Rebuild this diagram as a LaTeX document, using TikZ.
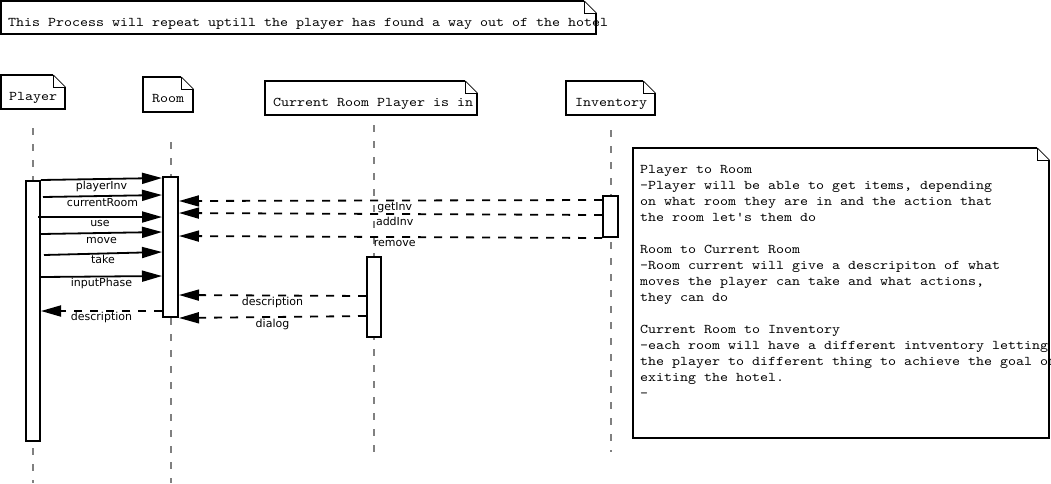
\documentclass[tikz,border=0pt]{standalone}
\usepackage{fontspec}
\usetikzlibrary{arrows.meta}
\newfontfamily\monof{lmmono10-regular.otf}[FakeStretch=1.143]
\newfontfamily\lblf{DejaVu Sans}
\definecolor{lifegray}{HTML}{808080}
\tikzset{
  notebox/.style={anchor=north west, inner ysep=0pt, minimum height=0pt, minimum width=0pt,
    fill=white, font=\monof\fontsize{13.33pt}{16pt}\selectfont, text height=25pt},
  notebord/.style={line width=2pt, line join=miter},
  foldl/.style={line width=0.8pt},
  act/.style={draw, line width=2pt, fill=white, inner sep=0pt},
  life/.style={draw=lifegray, line width=2pt, dash pattern=on 7pt off 9pt},
  msg/.style={line width=1.8pt, -{Triangle[length=20pt,width=11pt]}},
  ret/.style={msg, dash pattern=on 8pt off 8pt},
  lbl/.style={font=\lblf\fontsize{11pt}{13pt}\selectfont, inner sep=0pt},
}
\newcommand\foldnote[1]{%
  \draw[notebord] ([xshift=-12pt]#1.north east) -- (#1.north west) -- (#1.south west)
     -- (#1.south east) -- ([yshift=-12pt]#1.north east);
  \draw[foldl] ([xshift=-12pt]#1.north east) -- ([yshift=-12pt]#1.north east);
  \draw[foldl] ([xshift=-12pt]#1.north east) |- ([yshift=-12pt]#1.north east);}
\begin{document}
\begin{tikzpicture}[x=1pt,y=-1pt]
\useasboundingbox (0,0) rectangle (1051,483);

% notes / headers
\node[notebox, inner xsep=7pt, text depth=8pt] (top) at (1,1)
  {\makebox[581pt][l]{This Process will repeat uptill the player has found a way out of the hotel}};
\foldnote{top}
\node[notebox, inner xsep=8pt, text depth=9pt] (player) at (1,75) {\makebox[48pt][l]{Player}};
\foldnote{player}
\node[notebox, inner xsep=9pt, text depth=10pt] (room) at (143,77) {\makebox[32pt][l]{Room}};
\foldnote{room}
\node[notebox, inner xsep=8pt, text depth=9pt] (current) at (265,81) {\makebox[196pt][l]{Current Room Player is in}};
\foldnote{current}
\node[notebox, inner xsep=9pt, text depth=9pt] (inventory) at (566,81) {\makebox[71pt][l]{Inventory}};
\foldnote{inventory}

\node[notebox, inner xsep=7pt, text depth=265pt] (desc) at (633,148)
  {\makebox[402pt][l]{\begin{tabular}[t]{@{}l@{}}
  Player to Room\\
  -Player will be able to get items, depending\\
  on what room they are in and the action that\\
  the room let's them do\\
  \\
  Room to Current Room\\
  -Room current will give a descripiton of what\\
  moves the player can take and what actions,\\
  they can do\\
  \\
  Current Room to Inventory\\
  -each room will have a different intventory letting\\
  the player to different thing to achieve the goal of\\
  exiting the hotel.\\
  -
  \end{tabular}}};
\foldnote{desc}

% lifelines
\draw[life] (33,128) -- (33,483);
\draw[life] (171,142) -- (171,483);
\draw[life] (373.5,125) -- (373.5,455);
\draw[life] (610.5,130) -- (610.5,452);

% activations
\node[act, minimum width=14pt, minimum height=260pt] (pa) at (33,311) {};
\node[act, minimum width=15pt, minimum height=140pt] (ra) at (170.5,247) {};
\node[act, minimum width=14pt, minimum height=80pt] (ca) at (374,297) {};
\node[act, minimum width=15pt, minimum height=41pt] (ia) at (610.5,216.5) {};

% Player -> Room
\draw[msg] (pa.north east) -- node[lbl, midway, yshift=-7.5pt] (m1) {playerInv} ([yshift=-2pt]ra.north west);
\draw[msg] ([xshift=2pt,yshift=-17pt]pa.north east) -- node[lbl, midway, yshift=-6.5pt] (m2) {currentRoom} ([yshift=-19pt]ra.north west);
\draw[msg] ([xshift=-3pt,yshift=-37pt]pa.north east) -- node[lbl, midway, yshift=-6.5pt] (m3) {use} ([yshift=-41pt]ra.north west);
\draw[msg] ([yshift=-54pt]pa.north east) -- node[lbl, midway, yshift=-7.5pt] (m4) {move} ([yshift=-56pt]ra.north west);
\draw[msg] ([xshift=3pt,yshift=-75pt]pa.north east) -- node[lbl, midway, yshift=-6pt] (m5) {take} ([yshift=-76pt]ra.north west);
\draw[msg] ([yshift=-97pt]pa.north east) -- node[lbl, midway, yshift=-7pt] (m6) {inputPhase} ([yshift=-100pt]ra.north west);
\draw[ret] ([yshift=-135pt]ra.north west) -- node[lbl, midway, yshift=-6pt] (m7) {description} ([yshift=-131pt]pa.north east);

% Inventory -> Room
\draw[ret] ([yshift=-5pt]ia.north west) -- node[lbl, pos=0.49, yshift=-7pt] (m8) {getInv} ([yshift=-25pt]ra.north east);
\draw[ret] ([yshift=-20pt]ia.north west) -- node[lbl, pos=0.49, yshift=-7.5pt] (m9) {addInv} ([yshift=-37pt]ra.north east);
\draw[ret] (ia.south west) -- node[lbl, pos=0.49, yshift=-6.5pt] (m10) {remove} ([yshift=-60pt]ra.north east);

% Current Room -> Room
\draw[ret] ([yshift=-40pt]ca.north west) -- node[lbl, midway, yshift=-7pt] (m11) {description} ([yshift=-119pt]ra.north east);
\draw[ret] ([yshift=-60pt]ca.north west) -- node[lbl, midway, yshift=-7.5pt] (m12) {dialog} (ra.south east);
\end{tikzpicture}
\end{document}
